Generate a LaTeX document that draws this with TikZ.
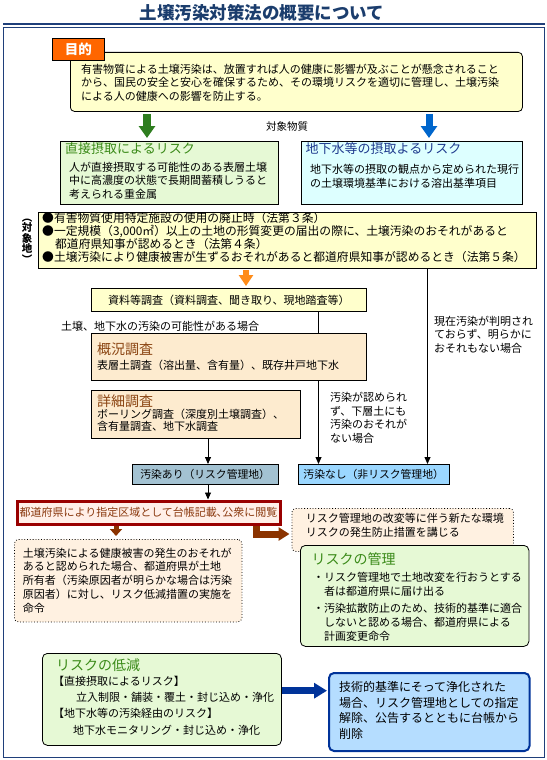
\documentclass[tikz,border=0pt]{standalone}
\usepackage{fontspec}
\setmainfont{Noto Sans CJK JP}
\usepackage{tikz}
\usetikzlibrary{positioning, backgrounds, calc, arrows.meta}

\definecolor{framenavy}{HTML}{1F3F7A}
\definecolor{titlenavy}{HTML}{1B3D6D}
\definecolor{aimorange}{HTML}{FF6600}
\definecolor{paleyellow}{HTML}{FFFFCC}
\definecolor{palegreen}{HTML}{E6F9D5}
\definecolor{palecyan}{HTML}{DDFFFF}
\definecolor{palepeach}{HTML}{FDEBCF}
\definecolor{dotpeach}{HTML}{FFF1E1}
\definecolor{pinkfill}{HTML}{FFEFE8}
\definecolor{riskred}{HTML}{990000}
\definecolor{riskbrown}{HTML}{8B3A10}
\definecolor{titlegreen}{HTML}{3A8A18}
\definecolor{titleblue}{HTML}{1E3A8E}
\definecolor{titlebrown}{HTML}{8B4513}
\definecolor{arrowgreen}{HTML}{2E7D1F}
\definecolor{arrowblue}{HTML}{0066CC}
\definecolor{arroworange}{HTML}{FF8C1A}
\definecolor{arrowbrown}{HTML}{8B3300}
\definecolor{greyblue}{HTML}{A3C2D2}
\definecolor{skyblue}{HTML}{9BD7FF}
\definecolor{endblue}{HTML}{B5DDFF}
\definecolor{endnavy}{HTML}{003399}

\tikzset{
	plainbox/.style={draw=black, line width=0.8pt, anchor=north west, inner sep=0pt}
}
\tikzset{
	roundbox/.style={plainbox, rounded corners=4pt}
}
\tikzset{
	dotbox/.style={roundbox, dotted, fill=dotpeach}
}
\tikzset{
	bodytext/.style={anchor=west, align=left, inner sep=0pt, font=\fontsize{11}{13.5}\selectfont}
}
\tikzset{
	headtext/.style={anchor=west, inner sep=0pt, font=\fontsize{14}{16}\selectfont}
}
\tikzset{
	thinarrow/.style={draw=black, line width=0.8pt, -{Triangle[length=7pt, width=6pt]}}
}
\tikzset{
	fatarrow/.style={line width=#1, line join=miter}
}

\begin{document}
\begin{tikzpicture}[x=1pt, y=-1pt]

	\useasboundingbox (0,0) rectangle (546,760);

	\node[inner sep=0pt, font=\fontsize{17.5}{20}\selectfont\bfseries, text=titlenavy] (title) at (262,13) {土壌汚染対策法の概要について};
	\draw[framenavy, line width=2pt] (3,24.5) -- (545,24.5);
	\draw[framenavy, line width=0.8pt] (3.5,27.5) rectangle (544.5,757.5);

	\begin{scope}
		\node[roundbox, fill=paleyellow, minimum width=452pt, minimum height=59pt] (purpose) at (70,52) {};
		\node[plainbox, fill=aimorange, minimum width=52pt, minimum height=22pt, text=white, font=\fontsize{13.5}{15}\selectfont\bfseries] (aim) at (52,38) {目的};
		\node[bodytext] (purposetext) at (81,82.8) {有害物質による土壌汚染は、放置すれば人の健康に影響が及ぶことが懸念されること\\から、国民の安全と安心を確保するため、その環境リスクを適切に管理し、土壌汚染\\による人の健康への影響を防止する。};
	\end{scope}

	\begin{scope}
		\node[plainbox, fill=palegreen, minimum width=217.5pt, minimum height=63pt] (direct) at (60,141) {};
		\node[headtext, font=\fontsize{13}{15}\selectfont, text=titlegreen] (directhead) at (65,149) {直接摂取によるリスク};
		\node[bodytext] (directtext) at (69,180.5) {人が直接摂取する可能性のある表層土壌\\中に高濃度の状態で長期間蓄積しうると\\考えられる重金属};

		\node[plainbox, fill=palecyan, minimum width=221pt, minimum height=63pt] (ground) at (301,141) {};
		\node[headtext, font=\fontsize{13}{15}\selectfont, text=titleblue] (groundhead) at (305.5,149) {地下水等の摂取よるリスク};
		\node[bodytext] (groundtext) at (310,176.2) {地下水等の摂取の観点から定められた現行\\の土壌環境基準における溶出基準項目};

		\node[inner sep=0pt, font=\fontsize{10.5}{12}\selectfont] (substance) at (287,127) {対象物質};

		\coordinate (garrow) at (147,0);
		\coordinate (barrow) at (429,0);
		\draw[fatarrow=8pt, arrowgreen, -{Triangle[length=12pt, width=16pt]}, shorten <=2pt, shorten >=3pt] (purpose.south -| garrow) -- (direct.north -| garrow);
		\draw[fatarrow=7pt, arrowblue, -{Triangle[length=12pt, width=16pt]}, shorten <=2pt, shorten >=3pt] (purpose.south -| barrow) -- (ground.north -| barrow);
	\end{scope}

	\begin{scope}
		\node[plainbox, fill=paleyellow, minimum width=497.5pt, minimum height=56pt] (target) at (38,212) {};
		\node[bodytext, font=\fontsize{11.8}{13}\selectfont] (targettext) at (42,237.5) {●有害物質使用特定施設の使用の廃止時（法第３条）\\●一定規模（3,000㎡）以上の土地の形質変更の届出の際に、土壌汚染のおそれがあると\\\hspace*{1.1em}都道府県知事が認めるとき（法第４条）\\●土壌汚染により健康被害が生ずるおそれがあると都道府県知事が認めるとき（法第５条）};
		\node[inner sep=0pt, align=center, font=\fontsize{10.5}{10.6}\selectfont\bfseries] (targetlabel) at (27,241) {︵\\対\\象\\地\\︶};
	\end{scope}

	\begin{scope}
		\node[plainbox, fill=paleyellow, minimum width=275pt, minimum height=23pt, font=\fontsize{11}{13}\selectfont] (docs) at (91,288) {資料等調査（資料調査、聞き取り、現地踏査等）};
		\node[bodytext] (possible) at (61,326) {土壌、地下水の汚染の可能性がある場合};

		\node[plainbox, fill=palepeach, minimum width=275pt, minimum height=47pt] (outline) at (91,333) {};
		\node[headtext, text=titlebrown] (outlinehead) at (97,349) {概況調査};
		\node[bodytext] (outlinetext) at (97,365) {表層土調査（溶出量、含有量）、既存井戸地下水};

		\node[plainbox, fill=palepeach, minimum width=209pt, minimum height=48pt] (detail) at (91,390) {};
		\node[headtext, text=titlebrown] (detailhead) at (97,401) {詳細調査};
		\node[bodytext, font=\fontsize{11}{12.5}\selectfont] (detailtext) at (97,420.2) {ボーリング調査（深度別土壌調査）、\\含有量調査、地下水調査};

		\node[bodytext] (nolower) at (330,417.7) {汚染が認められ\\ず、下層土にも\\汚染のおそれが\\ない場合};
		\node[bodytext] (noknown) at (434,334.5) {現在汚染が判明され\\ておらず、明らかに\\おそれもない場合};

		\node[plainbox, fill=greyblue, minimum width=145.5pt, minimum height=20pt, font=\fontsize{10.8}{13}\selectfont] (ari) at (132,464) {汚染あり（リスク管理地）};
		\node[plainbox, fill=skyblue, minimum width=151.5pt, minimum height=20pt, font=\fontsize{10.8}{13}\selectfont] (nashi) at (297.5,464) {汚染なし（非リスク管理地）};

		\coordinate (oarrow) at (246,0);
		\coordinate (aline) at (208,0);
		\coordinate (bline) at (318.5,0);
		\coordinate (cline) at (427.5,0);
		\draw[fatarrow=6pt, arroworange, -{Triangle[length=11pt, width=14pt]}, shorten <=1pt, shorten >=2pt] (target.south -| oarrow) -- (docs.north -| oarrow);
		\draw[thinarrow] (detail.south -| aline) -- (ari.north -| aline);
		\begin{scope}[on background layer]
			\draw[thinarrow] (docs.south -| bline) -- (nashi.north -| bline);
			\draw[thinarrow] (target.south -| cline) -- (nashi.north -| cline);
		\end{scope}
	\end{scope}

	\begin{scope}
		\node[plainbox, draw=riskred, line width=3pt, fill=pinkfill, minimum width=263pt, minimum height=23pt, text=riskbrown, font=\fontsize{11}{13}\selectfont] (ledger) at (15.5,499.5) {都道府県により指定区域として台帳記載､公衆に閲覧};
		\draw[thinarrow] (ari.south -| aline) -- (ledger.north -| aline);

		\node[dotbox, minimum width=221.5pt, minimum height=43pt] (newrisk) at (291.5,508) {};
		\node[bodytext] (newrisktext) at (305.6,525.3) {リスク管理地の改変等に伴う新たな環境\\リスクの発生防止措置を講じる};

		\node[dotbox, minimum width=227.5pt, minimum height=82.5pt] (order) at (14,539) {};
		\node[bodytext, font=\fontsize{11}{13.75}\selectfont] (ordertext) at (22.8,580.5) {土壌汚染による健康被害の発生のおそれが\\あると認められた場合、都道府県が土地\\所有者（汚染原因者が明らかな場合は汚染\\原因者）に対し、リスク低減措置の実施を\\命令};

		\coordinate (darrow) at (116,0);
		\coordinate (earrow) at (256,0);
		\coordinate (erow) at (0,534);
		\draw[fatarrow=5pt, arrowbrown, -{Triangle[length=7pt, width=12pt]}, shorten >=3pt] (ledger.south -| darrow) -- (order.north -| darrow);
		\draw[fatarrow=7pt, arrowbrown, -{Triangle[length=11pt, width=13pt]}, shorten >=2pt] (ledger.south -| earrow) |- (newrisk.west |- erow);
	\end{scope}

	\begin{scope}
		\node[roundbox, fill=palegreen, rounded corners=5pt, minimum width=228.5pt, minimum height=101pt] (manage) at (300,545) {};
		\node[headtext, text=titlegreen] (managehead) at (311.5,559) {リスクの管理};
		\node[bodytext, font=\fontsize{11}{14}\selectfont] (manageone) at (313,584) {・リスク管理地で土地改変を行おうとする\\\hspace*{1em}者は都道府県に届け出る};
		\node[bodytext, font=\fontsize{11}{14}\selectfont] (managetwo) at (313,622) {・汚染拡散防止のため、技術的基準に適合\\\hspace*{1em}しないと認める場合、都道府県による\\\hspace*{1em}計画変更命令};
	\end{scope}

	\begin{scope}
		\node[roundbox, fill=palegreen, rounded corners=5pt, minimum width=239pt, minimum height=92pt] (reduce) at (42,653) {};
		\node[headtext, text=titlegreen] (reducehead) at (56,665) {リスクの低減};
		\node[bodytext] (reduceone) at (53,681.3) {【直接摂取によるリスク】};
		\node[bodytext] (reduceonetext) at (76,697.8) {立入制限・舗装・覆土・封じ込め・浄化};
		\node[bodytext] (reducetwo) at (53,713.5) {【地下水等の汚染経由のリスク】};
		\node[bodytext] (reducetwotext) at (72.8,730) {地下水モニタリング・封じ込め・浄化};

		\node[roundbox, draw=endnavy, line width=2pt, fill=endblue, rounded corners=5pt, minimum width=200.5pt, minimum height=78pt] (release) at (328,672) {};
		\node[bodytext, font=\fontsize{12}{15.6}\selectfont] (releasetext) at (338.8,710.6) {技術的基準にそって浄化された\\場合、リスク管理地としての指定\\解除、公告するとともに台帳から\\削除};

		\coordinate (nrow) at (0,690.7);
		\draw[fatarrow=6.5pt, endnavy, -{Triangle[length=13pt, width=15pt]}, shorten >=1pt] (reduce.east |- nrow) -- (release.west |- nrow);
	\end{scope}

\end{tikzpicture}
\end{document}
